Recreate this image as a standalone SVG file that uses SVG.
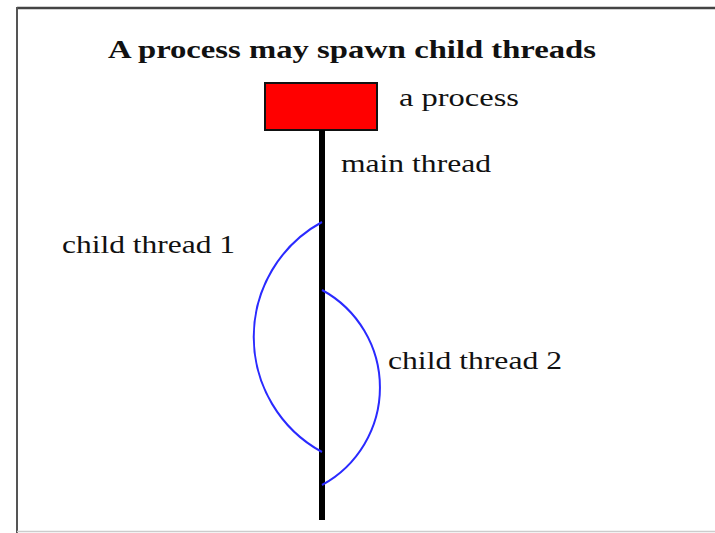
<svg xmlns="http://www.w3.org/2000/svg" width="715" height="533" viewBox="0 0 715 533">
  <style>
    .label { font-family: "Liberation Serif", "Times New Roman", serif; font-size: 25px; fill: #111; }
    .title { font-family: "Liberation Serif", "Times New Roman", serif; font-size: 26px; font-weight: bold; fill: #111; }
    .child { fill: none; stroke: #2a2aff; stroke-width: 2; }
  </style>
  <rect width="715" height="533" fill="#ffffff"/>
  <!-- frame -->
  <g id="frame">
    <line x1="17" y1="8" x2="715" y2="8" stroke="#444" stroke-width="2.5"/>
    <line x1="17" y1="7" x2="17" y2="533" stroke="#555" stroke-width="2"/>
    <line x1="17" y1="531.5" x2="715" y2="531.5" stroke="#ccc" stroke-width="1.5"/>
  </g>
  <text class="title" x="108" y="58" textLength="488" lengthAdjust="spacingAndGlyphs">A process may spawn child threads</text>
  <!-- the process box -->
  <g id="process">
    <rect x="265" y="83" width="112" height="47" fill="#ff0000" stroke="#111" stroke-width="2"/>
    <text class="label" x="399" y="106" textLength="120" lengthAdjust="spacingAndGlyphs">a process</text>
  </g>
  <!-- main thread line -->
  <g id="main-thread">
    <line x1="322" y1="130" x2="322" y2="520" stroke="#000" stroke-width="6"/>
    <text class="label" x="341" y="172" textLength="150" lengthAdjust="spacingAndGlyphs">main thread</text>
  </g>
  <!-- spawned threads -->
  <g id="connectors">
    <path id="child1" class="child" d="M322,222 A131,131 0 0 0 322,452"/>
    <path id="child2" class="child" d="M322,290 A111,111 0 0 1 322,485"/>
  </g>
  <g id="child-thread-1">
    <text class="label" x="62" y="253" textLength="173" lengthAdjust="spacingAndGlyphs">child thread 1</text>
  </g>
  <g id="child-thread-2">
    <text class="label" x="388" y="369" textLength="174" lengthAdjust="spacingAndGlyphs">child thread 2</text>
  </g>
</svg>
